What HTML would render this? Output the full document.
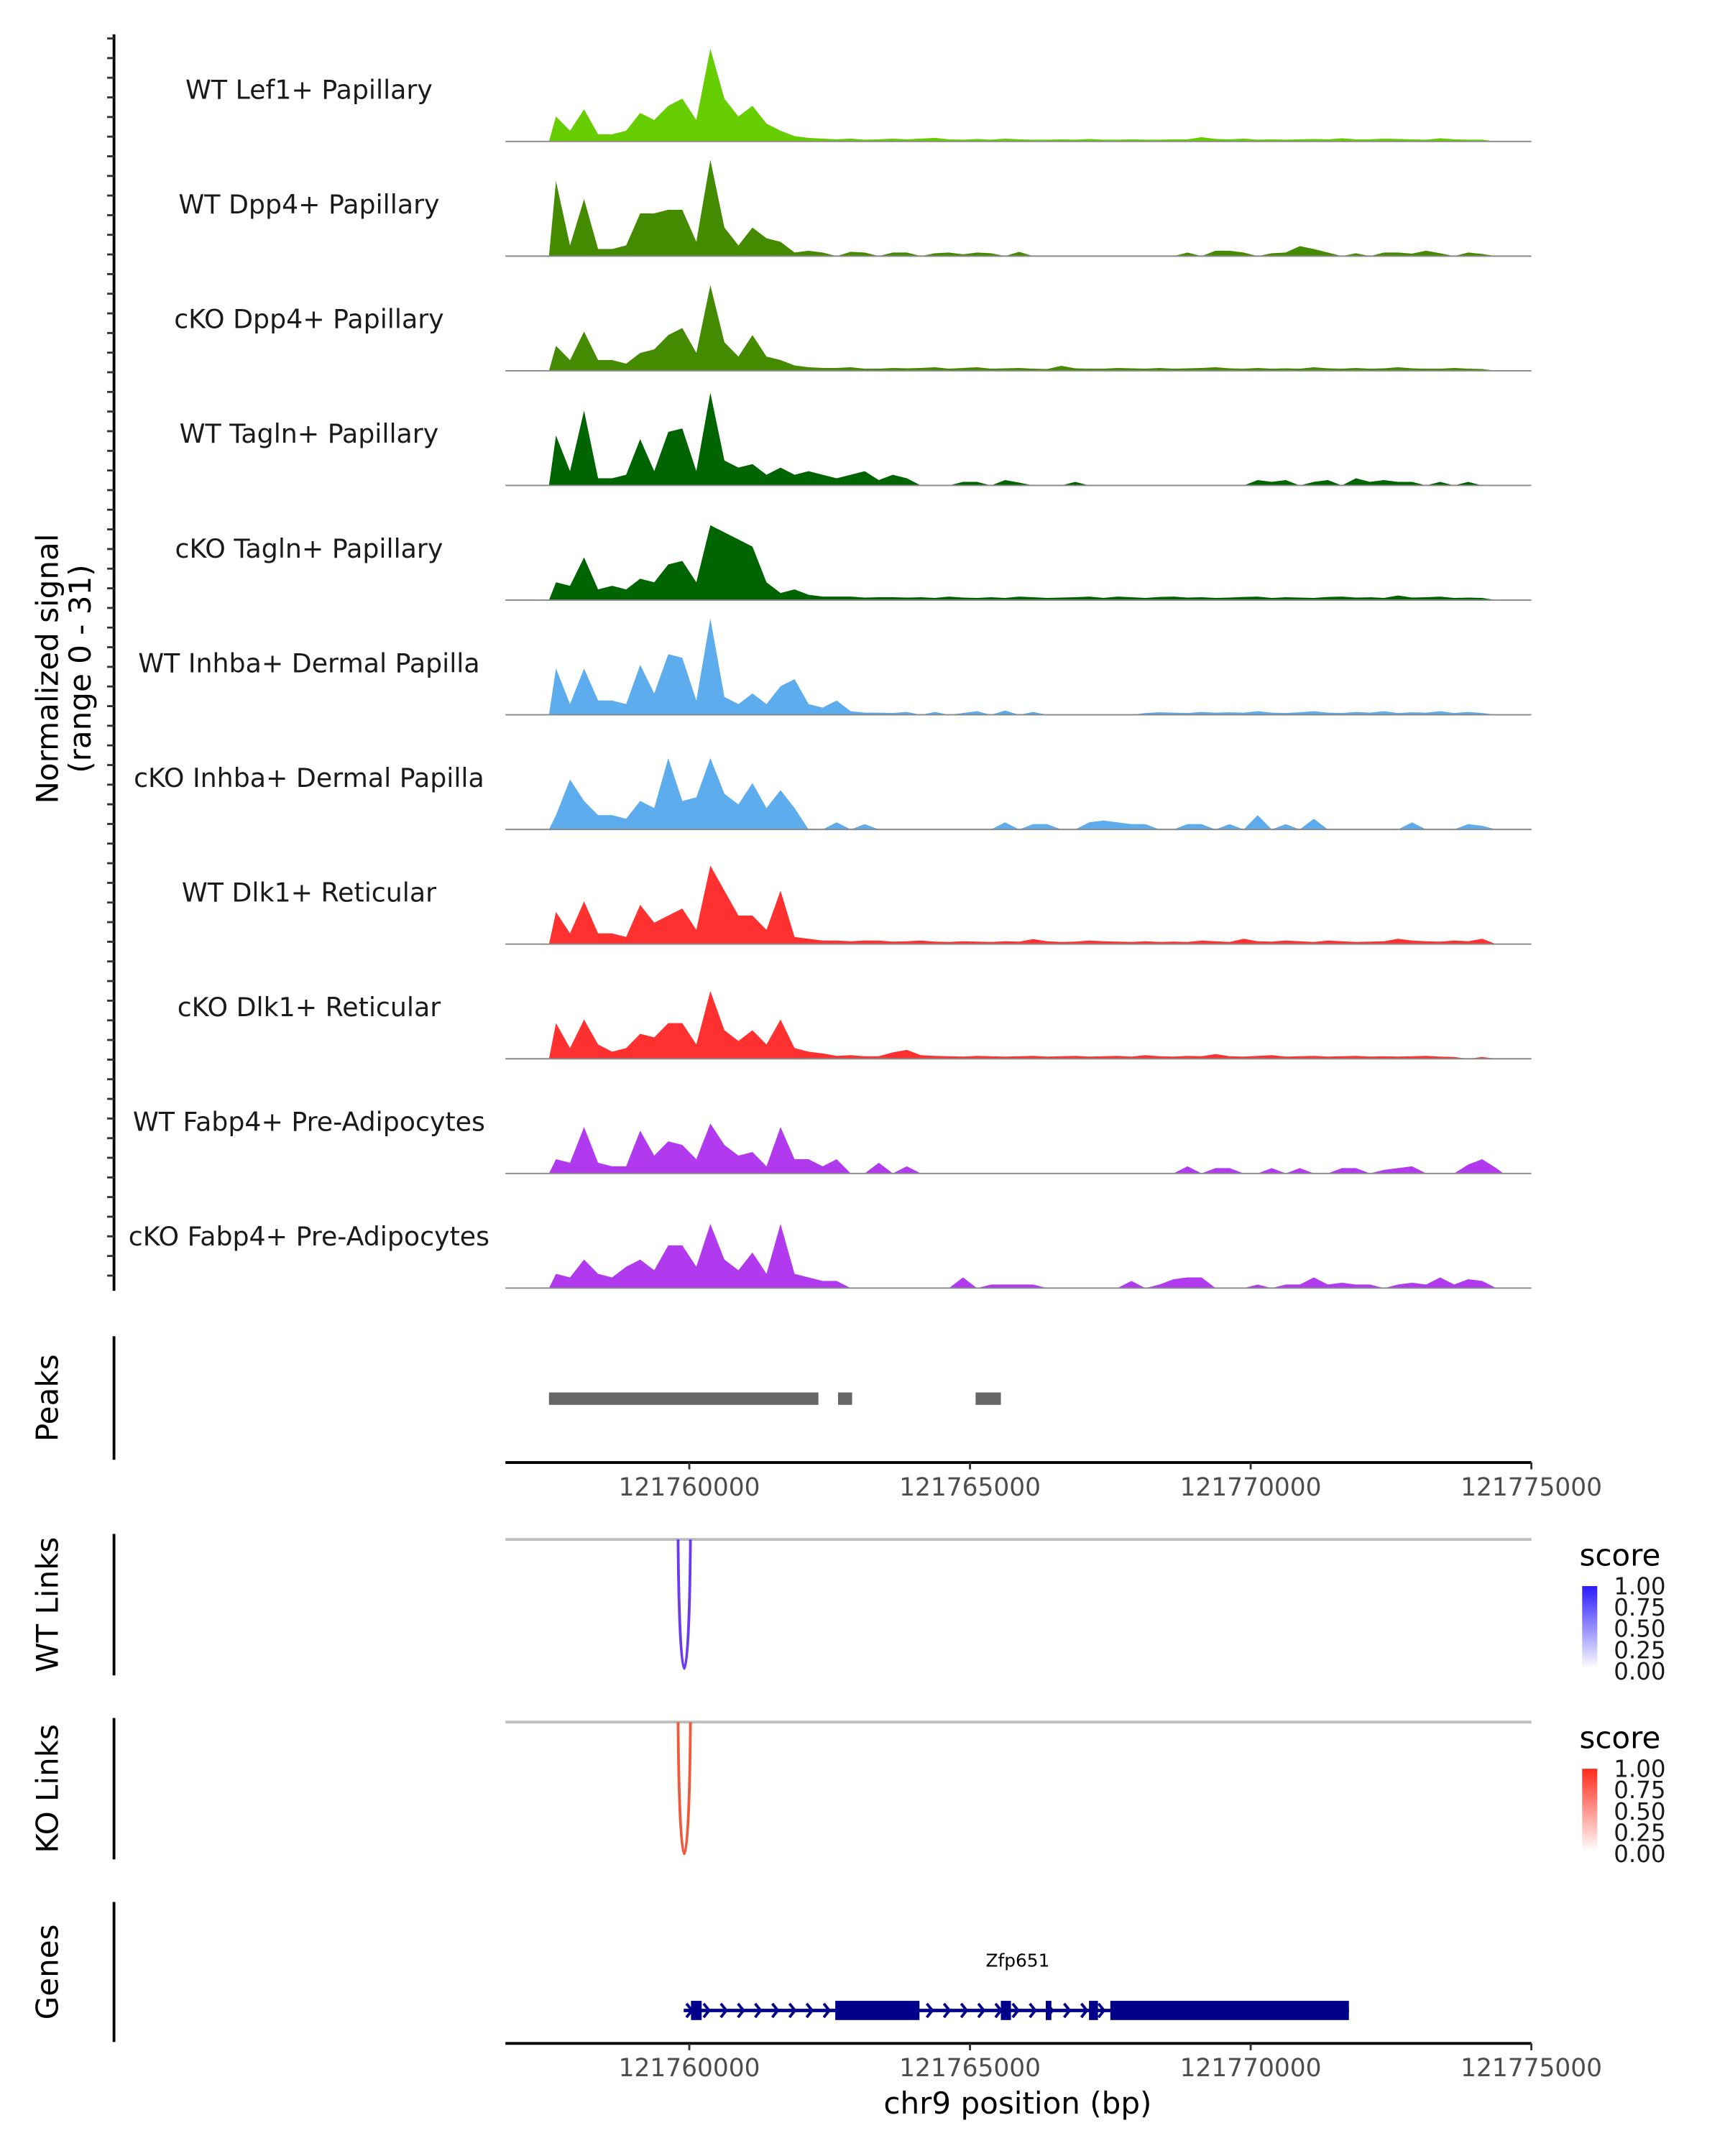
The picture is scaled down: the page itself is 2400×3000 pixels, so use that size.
<!DOCTYPE html>
<html><head><meta charset="utf-8"><style>
html,body{margin:0;padding:0;background:#fff}
svg{display:block;font-family:"DejaVu Sans","Liberation Sans",sans-serif}
</style></head><body>
<svg id="fig" width="2400" height="3000" viewBox="0 0 1256 1570" preserveAspectRatio="none" xmlns="http://www.w3.org/2000/svg">
<g id="tracks"></g>
<g id="axes"></g>
</svg>
<script>
const trackNames=["WT Lef1+ Papillary","WT Dpp4+ Papillary","cKO Dpp4+ Papillary","WT Tagln+ Papillary","cKO Tagln+ Papillary","WT Inhba+ Dermal Papilla","cKO Inhba+ Dermal Papilla","WT Dlk1+ Reticular","cKO Dlk1+ Reticular","WT Fabp4+ Pre-Adipocytes","cKO Fabp4+ Pre-Adipocytes"];
const trackColors=["#66cd00","#458b00","#458b00","#006400","#006400","#5cacee","#5cacee","#ff3030","#ff3030","#b23aee","#b23aee"];
const binStart=121757500, binSize=250;
const sLef1=[7,3,9,2,2,3,8,6,10,12,6,26,12,7,10,5,3,1.5,1,0.8,0.6,0.8,0.5,0.6,0.8,0.6,0.8,1,0.6,0.5,0.7,0.5,0.8,0.6,0.5,0.5,0.6,0.5,0.7,0.5,0.5,0.6,0.5,0.5,0.6,0.6,1.2,0.7,0.6,0.8,0.5,0.6,0.5,0.6,0.7,0.6,0.9,0.6,0.6,0.8,0.7,0.6,0.5,0.9,0.6,0.5,0.5,0];
const sDpp4WT=[21,3,16,2,2,3,12,12,13,13,4,27,8,3,8,5,4,1,1.5,1,0,1.2,1,0,1,1,0,0.8,1,0.5,1,0.8,0,1.2,0,0,0,0,0,0,0,0,0,0,0,1,0,1.5,1.5,1,0,0.8,1,2.8,2,1,0,0.8,0,1,1,0.7,1.5,0.8,0,1,0.6,0];
const sDpp4KO=[7,3,11,3,3,2,5,6,10,12,5,24,8,4,10,4,3,1.5,1,0.8,0.8,1,0.6,0.6,0.8,0.7,0.8,1,0.6,0.8,1,0.6,0.7,0.8,0.6,0.5,1.4,0.7,0.6,0.6,0.8,0.7,0.6,0.8,0.6,0.7,0.8,1,0.7,0.6,0.8,0.6,0.7,0.6,1,0.7,0.6,0.8,0.6,0.7,1,0.7,0.6,0.6,0.8,0.6,0.5,0];
const sTaglnWT=[14,4,21,2,2,3,13,4,15,16,4,26,7,5,6,3,5,3,4,3,2,3,4,1.5,3,2,0,0,0,1,1,0,1.5,0.8,0,0,0,1,0,0,0,0,0,0,0,0,0,0,0,0,1.5,1,1.5,0,1,1.5,0,2,1,1.5,1,1,0,1,0,1,0,0];
const sTaglnKO=[5,4,12,3,4,3,6,5,10,11,5,21,19,17,15,5,2,3,1.5,1,1,1,0.7,0.8,0.8,0.7,0.8,0.6,1,0.7,0.6,0.8,0.6,1,0.8,0.6,0.7,0.8,1,0.6,1,0.8,0.6,0.9,1,0.7,0.8,0.6,0.7,0.9,1,0.6,0.8,0.7,0.6,0.9,1,0.7,0.8,0.6,1.3,0.7,0.8,1,0.6,0.7,0.6,0];
const sInhbaWT=[13,3,13,4,4,3,14,6,17,16,4,27,5,3,6,3,8,10,3,2,4,1,0.6,0.6,0.5,0.8,0,0.8,0,0.5,1,0,1.2,0,0.8,0,0,0,0,0,0,0,0.5,0.7,0.6,0.5,0.8,0.6,0.7,0.6,1,0.6,0.5,0.7,1,0.6,0.5,0.8,0.6,1,0.5,0.7,0.6,1,0.5,0.8,0.5,0];
const sInhbaKO=[4,14,8,4,4,3,8,6,20,8,9,20,10,7,13,6,11,6,0,0,2,0,1.5,0,0,0,0,0,0,0,0,0,2,0,1.5,1.5,0,0,2,2.5,2,1.5,1.5,0,0,1.5,1.5,0,1.5,0,4,0,1.5,0,3,0,0,0,0,0,0,2,0,0,0,1.5,1,0];
const sDlk1WT=[9,3,12,3,3,2,11,6,8,10,4,22,15,8,8,4,15,2,1.5,1,1,0.8,1,1,0.7,0.8,1,0.7,0.6,0.8,0.7,0.6,0.8,0.7,1.4,0.8,0.6,0.7,1,0.8,0.7,0.6,0.8,0.6,0.7,0.6,1,0.8,0.6,1.5,0.8,0.7,1,0.8,0.6,1,0.8,0.6,0.7,0.8,1.5,1,0.8,0.7,1,0.8,1.5,0];
const sDlk1KO=[10,3,11,4,2,3,7,6,10,10,4,19,8,5,8,4,11,3,2,1.5,0.8,1,0.7,0.7,1.8,2.5,1,0.8,0.7,0.6,0.8,0.7,0.6,0.7,0.8,0.6,0.7,0.8,0.6,0.7,0.8,0.6,1,0.7,0.6,0.8,0.7,1.3,0.7,0.6,0.8,1,0.6,0.7,0.8,0.6,0.7,0.8,0.6,0.7,0.6,0.7,0.8,0.6,0.5,0,0.5,0];
const sFabp4WT=[4,3,13,3,2,2,12,5,9,8,4,14,8,5,6,2,13,4,4,2,4,0,0,3,0,2,0,0,0,0,0,0,0,0,0,0,0,0,0,0,0,0,0,0,0,2,0,1.5,1.5,0,0,1.5,0,1.5,0,0,1.5,1.5,0,1,1.5,2,0,0,0,2.5,4,1.5];
const sFabp4KO=[4,3,8,4,3,6,8,5,12,12,6,18,8,5,10,4,18,4,3,2,2,0,0,0,0,0,0,0,0,3,0,1,1,1,1,0,0,0,0,0,0,2,0,1,2.5,3,3,0,0,0,1,0,1,1,3,1,1.5,1,1,0,1,1.5,1,3,1,2.5,2,0];
const trackSignals=[sLef1,sDpp4WT,sDpp4KO,sTaglnWT,sTaglnKO,sInhbaWT,sInhbaKO,sDlk1WT,sDlk1KO,sFabp4WT,sFabp4KO];
const xTicks=[121760000,121765000,121770000,121775000];
const peakStarts=[121757500,121762650,121765100];
const peakEnds=[121762300,121762900,121765550];
const exonStarts=[121760030,121762600,121765550,121766350,121767120,121767500];
const exonEnds=[121760220,121764100,121765730,121766450,121767280,121771750];
const geneStart=121759900, geneEnd=121771750;
const linkStart=121759800, linkEnd=121760020;

const NS="http://www.w3.org/2000/svg";
const X0=368,X1=1115,D0=121756724,D1=121775000;
const xs=v=>X0+(v-D0)/(D1-D0)*(X1-X0);
const YMAX=31, TH=83.5, B0=103;
function mk(t,a,p){const e=document.createElementNS(NS,t);for(const k in a)e.setAttribute(k,a[k]);(p||document.getElementById('axes')).appendChild(e);return e;}
function txt(s,a,p){const e=mk('text',a,p);e.textContent=s;return e;}
const tg=document.getElementById('tracks');
trackSignals.forEach((sig,t)=>{
  const base=B0+t*TH;
  const ys=v=>base-v/YMAX*(TH-3);
  let d=`M${xs(binStart)},${base}`;
  sig.forEach((v,i)=>{const x=xs(binStart+(i+0.5)*binSize);d+=` L${x},${ys(v)}`;});
  d+=` L${xs(binStart+sig.length*binSize)},${base} Z`;
  const p=mk('path',{d:d,fill:trackColors[t],stroke:'none'},tg);
  
  
  const ln=mk('line',{x1:X0,x2:X1,y1:base,y2:base,stroke:'#888','stroke-width':1},tg);
  
  
  const lb=txt(trackNames[t],{x:225,y:base-31,'text-anchor':'middle','font-size':19,fill:'#1a1a1a'},tg);
  
  
});
const ya=mk('line',{x1:83,x2:83,y1:25,y2:940,stroke:'#000','stroke-width':2});

for(let y=28;y<940;y+=14.3){const tk=mk('line',{x1:78,x2:83,y1:y,y2:y,stroke:'#333','stroke-width':1.5});}
const yt=txt('Normalized signal',{x:0,y:0,transform:'translate(42,487) rotate(-90)','text-anchor':'middle','font-size':22});

const yt2=txt('(range 0 - 31)',{x:0,y:0,transform:'translate(66,487) rotate(-90)','text-anchor':'middle','font-size':22});

function panel(label,y0,y1,name){
  const l=mk('line',{x1:83,x2:83,y1:y0,y2:y1,stroke:'#000','stroke-width':2});
  
  const t=txt(label,{x:0,y:0,transform:`translate(42,${(y0+y1)/2}) rotate(-90)`,'text-anchor':'middle','font-size':22});
  
}
panel('Peaks',973,1063,'peaks');panel('WT Links',1117,1220,'wt-links');panel('KO Links',1251,1354,'ko-links');panel('Genes',1385,1487,'genes');
peakStarts.forEach((s,i)=>{const r=mk('rect',{x:xs(s),y:1014,width:xs(peakEnds[i])-xs(s),height:9,fill:'#666'});});
function xaxis(y){
  const l=mk('line',{x1:X0,x2:X1,y1:y,y2:y,stroke:'#000','stroke-width':2});
  
  xTicks.forEach(v=>{const t=mk('line',{x1:xs(v),x2:xs(v),y1:y,y2:y+5,stroke:'#333','stroke-width':1.5});
    const lb=txt(String(v),{x:xs(v),y:y+24,'text-anchor':'middle','font-size':18,fill:'#4d4d4d'});});
}
xaxis(1065);xaxis(1488);
const xt=txt('chr9 position (bp)',{x:741,y:1539,'text-anchor':'middle','font-size':22});

function links(y,bottom,color,gid,c1,name){
  const l=mk('line',{x1:X0,x2:X1,y1:y,y2:y,stroke:'#bdbdbd','stroke-width':2});
  
  const a=xs(linkStart),b=xs(linkEnd);
  const cy=y+(bottom-y)*4/3;
  const arc=mk('path',{d:`M${a},${y} C${a+1},${cy} ${b-1},${cy} ${b},${y}`,fill:'none',stroke:color,'stroke-width':2});
  
  const defs=mk('defs',{});const g=mk('linearGradient',{id:gid,x1:0,y1:1,x2:0,y2:0},defs);
  mk('stop',{offset:0,'stop-color':'#ffffff'},g);mk('stop',{offset:1,'stop-color':c1},g);
  const st=txt('score',{x:1150,y:y+19,'font-size':22});
  const r=mk('rect',{x:1152,y:y+34,width:11,height:60,fill:`url(#${gid})`});
  ['1.00','0.75','0.50','0.25','0.00'].forEach((s,i)=>{const tl=txt(s,{x:1175,y:y+40+i*15.5,'font-size':17,fill:'#1a1a1a'});});
}
links(1121,1215,'#6a3cf0','gwt','#2a1aff','wt-links');
links(1254,1350,'#f05a3c','gko','#ff2a1a','ko-links');
const gl=mk('line',{x1:xs(geneStart),x2:xs(geneEnd),y1:1464,y2:1464,stroke:'#00008b','stroke-width':2.5});

for(let x=xs(geneStart)+2;x<xs(geneEnd);x+=12.5){const ar=mk('path',{d:`M${x},1459 L${x+4},1464 L${x},1469`,fill:'none',stroke:'#00008b','stroke-width':2});}
exonStarts.forEach((s,i)=>{const r=mk('rect',{x:xs(s),y:1457,width:xs(exonEnds[i])-xs(s),height:14,fill:'#00008b'});});
const gn=txt('Zfp651',{x:741,y:1432,'text-anchor':'middle','font-size':13});

</script>
</body></html>
